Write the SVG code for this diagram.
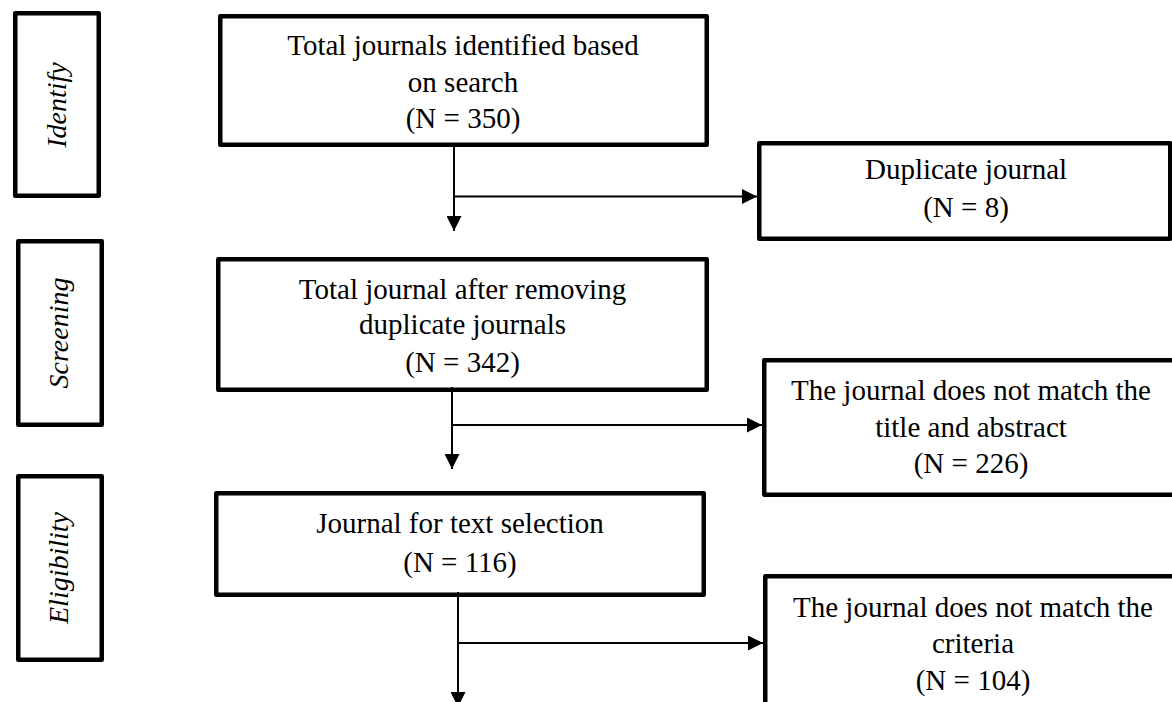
<svg xmlns="http://www.w3.org/2000/svg" width="1172" height="702" viewBox="0 0 1172 702">
<style>
.box{fill:#fff;stroke:#000;stroke-width:4.5;stroke-linejoin:round}
.t{font-family:"Liberation Serif","Times New Roman",serif;font-size:29px;fill:#000;text-anchor:middle}
.side{font-family:"Liberation Serif","Times New Roman",serif;font-size:28px;font-style:italic;fill:#000;text-anchor:middle}
.c{fill:none;stroke:#000;stroke-width:2}
</style>
<defs>
<marker id="ah" markerUnits="userSpaceOnUse" markerWidth="15" markerHeight="15" refX="15" refY="7.5" orient="auto" viewBox="0 0 15 15">
<path d="M0,0 L15,7.5 L0,15 z" fill="#000"/>
</marker>
</defs>
<rect width="1172" height="702" fill="#fff"/>
<g id="stage-identify">
<rect class="box" x="15.25" y="13.25" width="83.5" height="182.5"/>
<text class="side" transform="translate(66,105) rotate(-90)">Identify</text>
</g>
<g id="stage-screening">
<rect class="box" x="18.25" y="241.25" width="83.5" height="183.5"/>
<text class="side" transform="translate(68,333) rotate(-90)">Screening</text>
</g>
<g id="stage-eligibility">
<rect class="box" x="18.25" y="476.25" width="83.5" height="183.5"/>
<text class="side" transform="translate(68,568) rotate(-90)">Eligibility</text>
</g>
<g id="identified">
<rect class="box" x="220.25" y="16.25" width="486.5" height="128.5"/>
<text class="t" x="463" y="55">Total journals identified based</text>
<text class="t" x="463" y="92">on search</text>
<text class="t" x="463" y="128">(N = 350)</text>
</g>
<g id="duplicate">
<rect class="box" x="759.25" y="143.25" width="411" height="95.5"/>
<text class="t" x="966" y="179">Duplicate journal</text>
<text class="t" x="966" y="217">(N = 8)</text>
</g>
<g id="after-duplicates">
<rect class="box" x="218.25" y="259.25" width="488.5" height="130.5"/>
<text class="t" x="462.5" y="299">Total journal after removing</text>
<text class="t" x="462.5" y="334">duplicate journals</text>
<text class="t" x="462.5" y="372">(N = 342)</text>
</g>
<g id="title-abstract">
<rect class="box" x="764.25" y="360.25" width="500" height="134.5"/>
<text class="t" x="971" y="400">The journal does not match the</text>
<text class="t" x="971" y="437">title and abstract</text>
<text class="t" x="971" y="473">(N = 226)</text>
</g>
<g id="text-selection">
<rect class="box" x="216.25" y="493.25" width="487.5" height="101.5"/>
<text class="t" x="460" y="533">Journal for text selection</text>
<text class="t" x="460" y="572">(N = 116)</text>
</g>
<g id="criteria">
<rect class="box" x="765.25" y="576.25" width="500" height="200"/>
<text class="t" x="973" y="617">The journal does not match the</text>
<text class="t" x="973" y="653">criteria</text>
<text class="t" x="973" y="690">(N = 104)</text>
</g>
<g id="connectors">
<line class="c" x1="454" y1="147" x2="454" y2="231" marker-end="url(#ah)"/>
<line class="c" x1="455" y1="196.5" x2="757" y2="196.5" marker-end="url(#ah)"/>
<line class="c" x1="452" y1="387" x2="452" y2="469" marker-end="url(#ah)"/>
<line class="c" x1="453" y1="425" x2="762" y2="425" marker-end="url(#ah)"/>
<line class="c" x1="458" y1="592" x2="458" y2="707" marker-end="url(#ah)"/>
<line class="c" x1="459" y1="643" x2="763" y2="643" marker-end="url(#ah)"/>
</g>
</svg>
